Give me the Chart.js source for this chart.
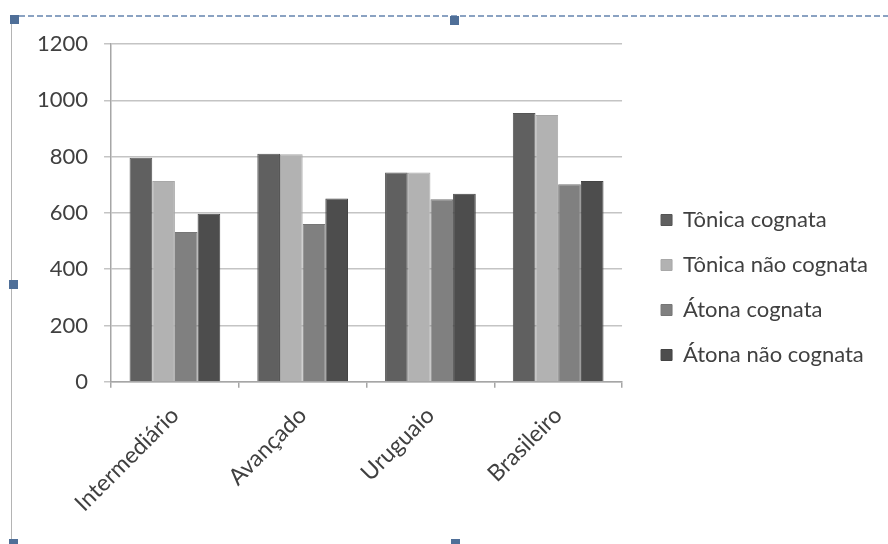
<!DOCTYPE html>
<html>
<head>
<meta charset="utf-8">
<script src="https://cdn.jsdelivr.net/npm/chart.js@4/dist/chart.umd.min.js"></script>
<style>
  html, body { margin: 0; padding: 0; background: #fff; }
  #wrap { position: relative; width: 888px; height: 544px; }
  #chart { position: absolute; left: 0; top: 0; }
  .top-line { position: absolute; left: 10px; top: 15px; width: 878px; height: 2px;
    background: repeating-linear-gradient(to right, #8aa2c2 0 6px, transparent 6px 9px); }
  .left-line { position: absolute; left: 11px; top: 17px; width: 1px; height: 527px; background: #b4b4b4; }
  .handle { position: absolute; width: 9px; height: 9px; background: #4f6f98; }
</style>
</head>
<body>
<div id="wrap">
  <canvas id="chart" width="888" height="544"></canvas>
  <div class="top-line"></div>
  <div class="left-line"></div>
  <div class="handle" style="left:10px;top:15px"></div>
  <div class="handle" style="left:450px;top:16px"></div>
  <div class="handle" style="left:9px;top:280px"></div>
  <div class="handle" style="left:9px;top:539px"></div>
  <div class="handle" style="left:451px;top:539px"></div>
</div>
<script>
const categories = ['Intermediário', 'Avançado', 'Uruguaio', 'Brasileiro'];
const seriesNames = ['Tônica cognata', 'Tônica não cognata', 'Átona cognata', 'Átona não cognata'];
const tonicaCognata = [796, 810, 743, 955];
const tonicaNaoCognata = [713, 808, 743, 948];
const atonaCognata = [532, 560, 648, 702];
const atonaNaoCognata = [597, 651, 668, 713];
const yTicks = [0, 200, 400, 600, 800, 1000, 1200];

const colors = ['#606060', '#b2b2b2', '#808080', '#4d4d4d'];
const borders = ['#555555', '#a8a8a8', '#767676', '#444444'];
const values = [tonicaCognata, tonicaNaoCognata, atonaCognata, atonaNaoCognata];

const font = { family: 'Lato', size: 22 };
const LEGEND_GAP = 16;

// widen the space between plot and legend without moving the legend items
const legendGap = {
  id: 'legendGap',
  beforeLayout(chart) {
    const leg = chart.legend;
    if (leg && !leg._gapPatched) {
      const fit = leg.fit.bind(leg);
      leg.fit = function () { fit(); this.width += LEGEND_GAP; };
      leg._gapPatched = true;
    }
  },
  afterLayout(chart) {
    if (chart.legend) chart.legend.left += LEGEND_GAP;
  }
};

new Chart(document.getElementById('chart'), {
  type: 'bar',
  data: {
    labels: categories,
    datasets: seriesNames.map((name, i) => ({
      label: name,
      data: values[i],
      backgroundColor: colors[i],
      borderColor: borders[i],
      borderWidth: 1,
      categoryPercentage: 0.71,
      barPercentage: 1.0
    }))
  },
  options: {
    responsive: false,
    animation: false,
    layout: { padding: { left: 21, top: 44, right: 10, bottom: 13 } },
    plugins: {
      tooltip: { enabled: false },
      legend: {
        position: 'right',
        maxWidth: 320,
        labels: {
          font: font,
          color: '#404040',
          boxWidth: 11,
          boxHeight: 11,
          padding: 23
        }
      }
    },
    scales: {
      x: {
        grid: { drawOnChartArea: false, drawTicks: true, tickLength: 6, color: '#a6a6a6', lineWidth: 1.5 },
        border: { color: '#a6a6a6', width: 1.5 },
        ticks: { font: { family: 'Lato', size: 23 }, color: '#404040', minRotation: 45, maxRotation: 45, padding: 14 }
      },
      y: {
        min: 0,
        max: 1200,
        afterBuildTicks: (axis) => { axis.ticks = yTicks.map(v => ({ value: v })); },
        grid: { color: '#c4c4c4', lineWidth: 1.5, tickLength: 7 },
        border: { color: '#a6a6a6', width: 1.5 },
        ticks: { font: font, color: '#404040', padding: 16, callback: (v) => String(v) }
      }
    }
  },
  plugins: [legendGap]
});
</script>
</body>
</html>
